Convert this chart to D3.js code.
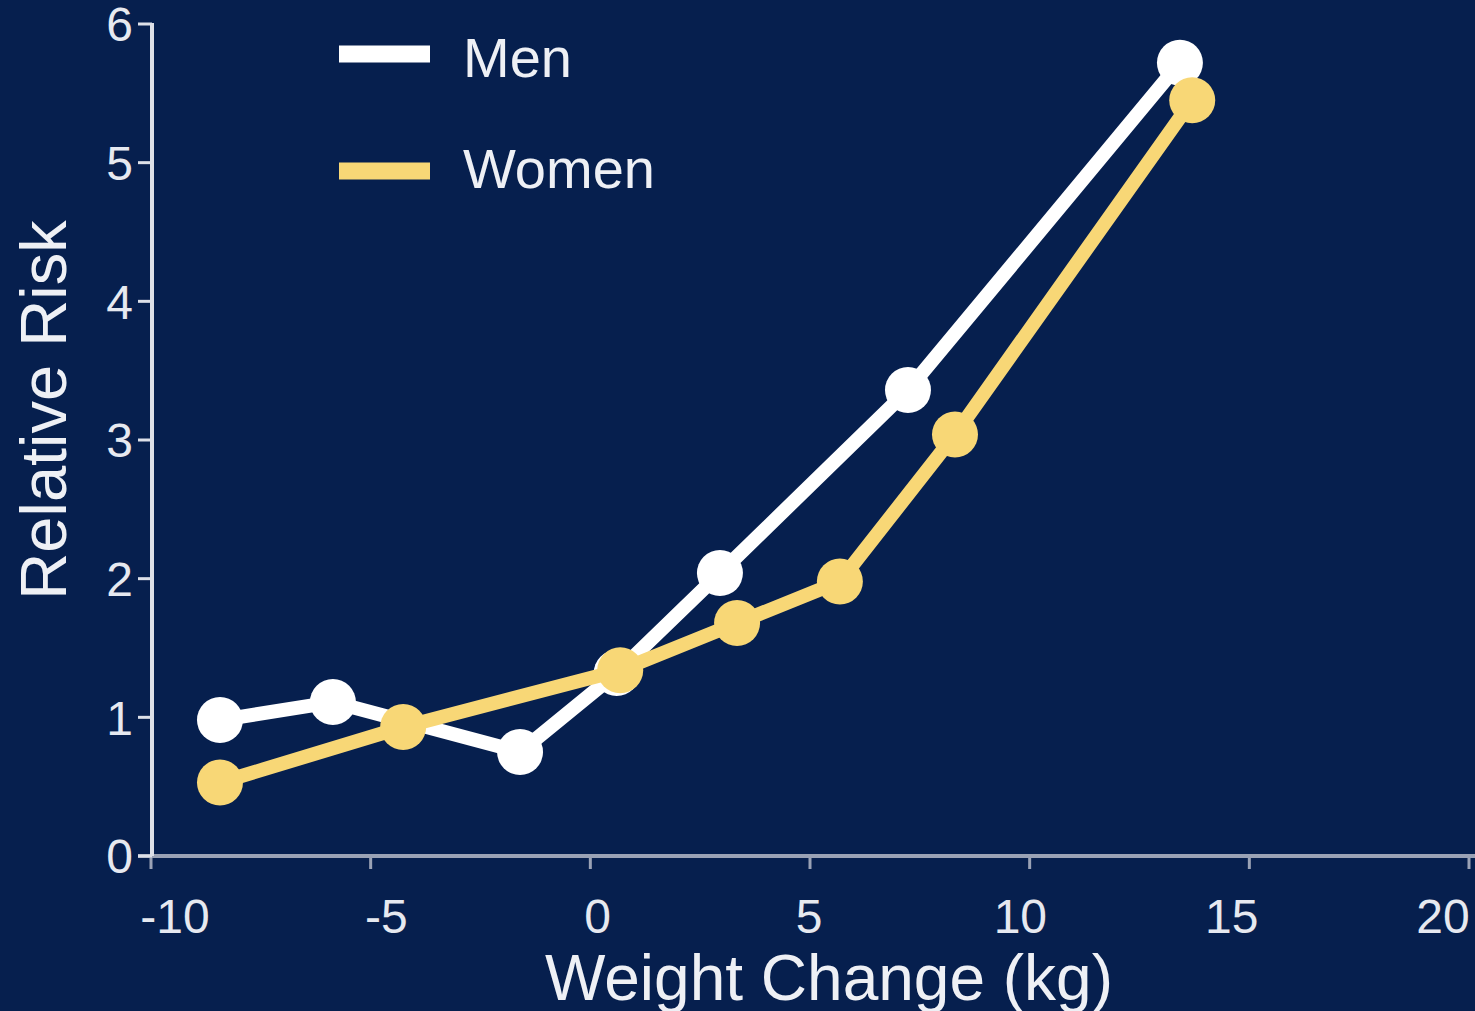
<!DOCTYPE html>
<html><head><meta charset="utf-8">
<script src="https://cdn.jsdelivr.net/npm/d3@7"></script>
<style>
html,body{margin:0;padding:0;background:#061f4e;}
svg{display:block;font-family:"Liberation Sans",Arial,sans-serif;}
</style></head>
<body>
<svg id="chart" width="1475" height="1011"></svg>
<script>
const seriesNames = ["Men", "Women"];
const seriesColors = ["#ffffff", "#f8d776"];
const menX = [-8.43, -5.86, -1.6, 0.6, 2.95, 7.23, 13.42];
const menY = [0.98, 1.11, 0.75, 1.32, 2.04, 3.36, 5.72];
const womenX = [-8.43, -4.26, 0.68, 3.34, 5.68, 8.3, 13.7];
const womenY = [0.53, 0.93, 1.34, 1.68, 1.98, 3.04, 5.45];
const xTicks = [-10, -5, 0, 5, 10, 15, 20];
const yTicks = [0, 1, 2, 3, 4, 5, 6];
const xLabel = "Weight Change (kg)";
const yLabel = "Relative Risk";

const svg = d3.select("#chart");
svg.append("rect").attr("width",1475).attr("height",1011).attr("fill","#061f4e");

const x = d3.scaleLinear().domain([-10,20]).range([151,1469]);
// tick labels in the reference sit on a slightly narrower span than the ticks
const xLab = d3.scaleLinear().domain([-10,20]).range([175,1443]);
const y = d3.scaleLinear().domain([0,6]).range([856,24]);

// x axis
const xg = svg.append("g").attr("transform","translate(0,856)");
xg.append("line").attr("x1",138).attr("x2",1475).attr("y1",0).attr("y2",0)
  .attr("stroke","#9aa2b5").attr("stroke-width",4);
xg.selectAll("line.t").data(xTicks).join("line").attr("class","t")
  .attr("x1",d=>x(d)).attr("x2",d=>x(d)).attr("y1",0).attr("y2",13)
  .attr("stroke","#9aa2b5").attr("stroke-width",3);
xg.selectAll("text").data(xTicks).join("text")
  .attr("x",d=>xLab(d)).attr("y",77).attr("text-anchor","middle")
  .attr("font-size",48).attr("fill","#e6e9f0").text(d=>d);

// y axis
const yg = svg.append("g").attr("transform","translate(152,0)");
yg.append("line").attr("x1",0).attr("x2",0).attr("y1",y(6)-1).attr("y2",856)
  .attr("stroke","#dde0e8").attr("stroke-width",4);
yg.selectAll("line.t").data(yTicks).join("line").attr("class","t")
  .attr("x1",-14).attr("x2",0).attr("y1",d=>y(d)).attr("y2",d=>y(d))
  .attr("stroke","#dde0e8").attr("stroke-width",3);
yg.selectAll("text").data(yTicks).join("text")
  .attr("x",-19).attr("y",d=>y(d)).attr("dy","0.36em").attr("text-anchor","end")
  .attr("font-size",48).attr("fill","#e6e9f0").text(d=>d);

// axis labels
svg.append("text").attr("x",829).attr("y",1000).attr("text-anchor","middle")
  .attr("font-size",64).attr("fill","#eef0f5").text(xLabel);
svg.append("text").attr("transform","translate(66,410) rotate(-90)")
  .attr("text-anchor","middle").attr("font-size",65).attr("fill","#eef0f5").text(yLabel);

// series
const data = [
  menX.map((v,i)=>({x:v,y:menY[i]})),
  womenX.map((v,i)=>({x:v,y:womenY[i]}))
];
const line = d3.line().x(d=>x(d.x)).y(d=>y(d.y));
data.forEach((pts,si)=>{
  const g = svg.append("g");
  g.append("path").datum(pts).attr("d",line).attr("fill","none")
    .attr("stroke",seriesColors[si]).attr("stroke-width",14).attr("stroke-linejoin","round");
  g.selectAll("circle").data(pts).join("circle")
    .attr("cx",d=>x(d.x)).attr("cy",d=>y(d.y)).attr("r",23).attr("fill",seriesColors[si]);
});

// legend
const lg = svg.append("g");
const legY = [54, 171];
const legBase = [77, 188];
seriesNames.forEach((n,i)=>{
  lg.append("line").attr("x1",339).attr("x2",430).attr("y1",legY[i]).attr("y2",legY[i])
    .attr("stroke",seriesColors[i]).attr("stroke-width",17);
  lg.append("text").attr("x",463).attr("y",legBase[i]).attr("font-size",56)
    .attr("fill","#eef0f5").text(n);
});
</script>
</body></html>
